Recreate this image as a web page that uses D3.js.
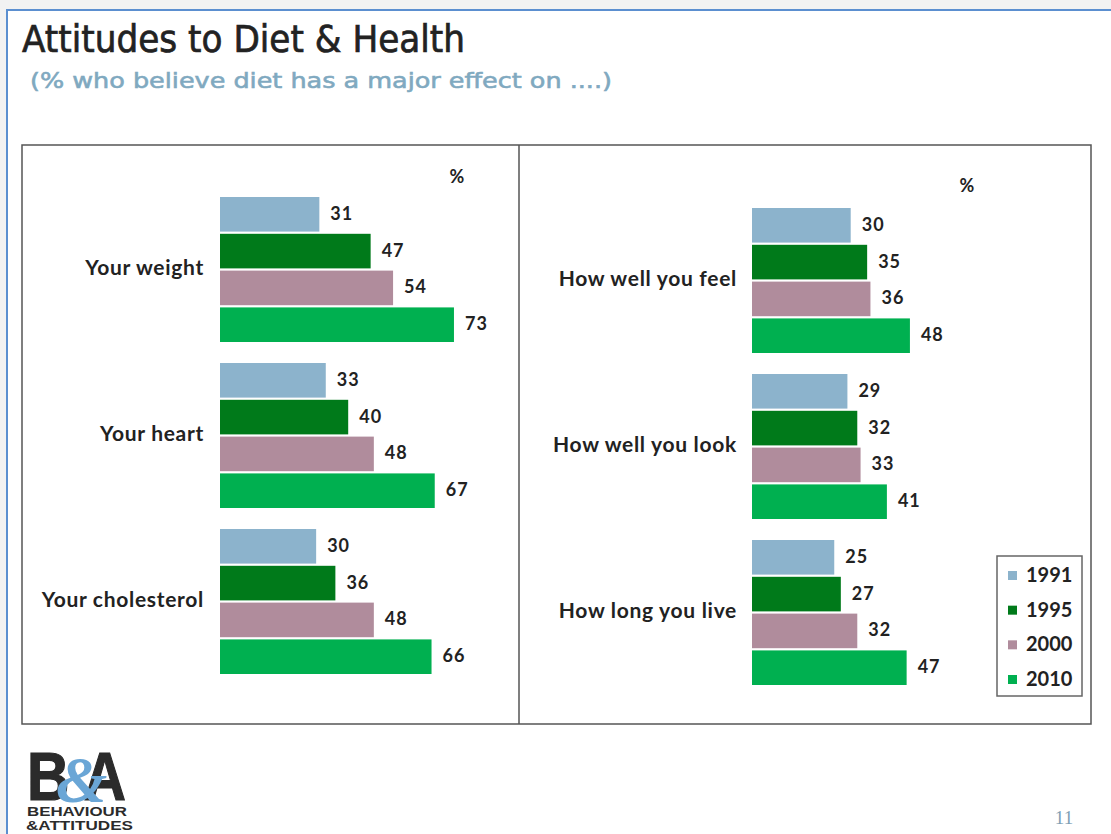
<!DOCTYPE html>
<html>
<head>
<meta charset="utf-8">
<script src="https://cdn.jsdelivr.net/npm/d3@7"></script>
<style>
  html, body { margin: 0; padding: 0; background: #f2f2f2; }
  svg { display: block; }
</style>
</head>
<body>
<svg id="chart" width="1111" height="834"></svg>
<script>
// Survey waves and their colours
const years = ["1991", "1995", "2000", "2010"];
const yearColors = ["#8cb3cc", "#007a1a", "#b08c9c", "#00b050"];

// Left panel: physical effects
const leftCategories = ["Your weight", "Your heart", "Your cholesterol"];
const leftValues = [
  [31, 47, 54, 73],
  [33, 40, 48, 67],
  [30, 36, 48, 66]
];

// Right panel: wellbeing effects
const rightCategories = ["How well you feel", "How well you look", "How long you live"];
const rightValues = [
  [30, 35, 36, 48],
  [29, 32, 33, 41],
  [25, 27, 32, 47]
];

const svg = d3.select("#chart");
const labelFont = "Lato, 'DejaVu Sans', sans-serif";

// Slide page
svg.append("rect").attr("x", 7).attr("y", 10).attr("width", 1104).attr("height", 824).attr("fill", "#ffffff");
svg.append("path").attr("d", "M7,834 V10 H1111")
  .attr("fill", "none").attr("stroke", "#5b8fd0").attr("stroke-width", 2);

// Title and subtitle
svg.append("text")
  .attr("x", 22).attr("y", 52)
  .attr("font-family", "'DejaVu Sans', sans-serif")
  .attr("font-size", 37)
  .attr("fill", "#222222").attr("stroke", "#222222").attr("stroke-width", 0.7)
  .attr("textLength", 443).attr("lengthAdjust", "spacingAndGlyphs")
  .text("Attitudes to Diet & Health");

svg.append("text")
  .attr("x", 30).attr("y", 88)
  .attr("font-family", "'DejaVu Sans', sans-serif")
  .attr("font-size", 22)
  .attr("fill", "#80a9c0").attr("stroke", "#80a9c0").attr("stroke-width", 0.6)
  .attr("textLength", 582).attr("lengthAdjust", "spacingAndGlyphs")
  .text("(% who believe diet has a major effect on ....)");

// Chart frame with divider
svg.append("rect").attr("x", 22).attr("y", 145).attr("width", 1069).attr("height", 579)
  .attr("fill", "#ffffff").attr("stroke", "#555555").attr("stroke-width", 1.5);
svg.append("line").attr("x1", 519).attr("x2", 519).attr("y1", 145).attr("y2", 724)
  .attr("stroke", "#555555").attr("stroke-width", 1.5);

function drawPanel(cfg) {
  const x = d3.scaleLinear().domain([0, 100]).range([cfg.x0, cfg.x0 + cfg.width100]);
  const y = d3.scaleBand().domain(cfg.categories).range([cfg.y0, cfg.y0 + 498])
    .paddingInner(0.1265).paddingOuter(0.1265 / 2);
  const yInner = d3.scaleBand().domain(years).range([0, y.bandwidth()])
    .paddingInner(0.06).paddingOuter(0);
  const color = d3.scaleOrdinal().domain(years).range(yearColors);

  const g = svg.append("g");

  // "%" unit marker
  g.append("text")
    .attr("x", cfg.pctX).attr("y", cfg.pctY)
    .attr("text-anchor", "middle").attr("dominant-baseline", "middle")
    .attr("font-family", labelFont).attr("font-weight", "bold")
    .attr("font-size", 18).attr("fill", "#222")
    .text("%");

  const groups = g.selectAll("g.cat")
    .data(cfg.categories.map((c, i) => ({ cat: c, vals: cfg.values[i] })))
    .join("g").attr("class", "cat")
    .attr("transform", d => `translate(0,${y(d.cat)})`);

  groups.append("text")
    .attr("x", cfg.labelX)
    .attr("y", y.bandwidth() / 2)
    .attr("text-anchor", "end").attr("dominant-baseline", "middle")
    .attr("font-family", labelFont).attr("font-weight", "bold")
    .attr("font-size", 21).attr("letter-spacing", 0.7).attr("fill", "#222")
    .text(d => d.cat);

  const bars = groups.selectAll("g.bar")
    .data(d => d.vals.map((v, j) => ({ year: years[j], value: v })))
    .join("g").attr("class", "bar");

  bars.append("rect")
    .attr("x", x(0))
    .attr("y", d => yInner(d.year))
    .attr("width", d => x(d.value) - x(0))
    .attr("height", yInner.bandwidth())
    .attr("fill", d => color(d.year));

  bars.append("text")
    .attr("x", d => x(d.value) + 11)
    .attr("y", d => yInner(d.year) + yInner.bandwidth() / 2 + 1)
    .attr("dominant-baseline", "middle")
    .attr("font-family", labelFont).attr("font-weight", "bold")
    .attr("font-size", 18).attr("letter-spacing", 1).attr("fill", "#222")
    .text(d => d.value);
}

drawPanel({
  categories: leftCategories, values: leftValues,
  x0: 220, width100: 320.5, y0: 186.5, labelX: 204, pctX: 457, pctY: 178
});
drawPanel({
  categories: rightCategories, values: rightValues,
  x0: 752, width100: 329, y0: 197.5, labelX: 737, pctX: 967, pctY: 187
});

// Legend
const legend = svg.append("g");
legend.append("rect").attr("x", 997).attr("y", 556).attr("width", 85).attr("height", 140)
  .attr("fill", "#ffffff").attr("stroke", "#666666").attr("stroke-width", 1.5);
const legendY = d3.scalePoint().domain(years).range([576, 680]);
const items = legend.selectAll("g.item").data(years).join("g").attr("class", "item")
  .attr("transform", d => `translate(0,${legendY(d)})`);
items.append("rect").attr("x", 1008).attr("y", -5).attr("width", 9).attr("height", 9)
  .attr("fill", (d, i) => yearColors[i]);
items.append("text").attr("x", 1026).attr("y", 1)
  .attr("dominant-baseline", "middle")
  .attr("font-family", labelFont).attr("font-weight", "bold")
  .attr("font-size", 20).attr("fill", "#222")
  .text(d => d);

// Company logo: monogram with a blue ampersand laid over it, then the wordmark
const logo = svg.append("g");
logo.append("text").attr("x", 27).attr("y", 800)
  .attr("font-family", "'Liberation Sans', Arial, sans-serif").attr("font-weight", "bold")
  .attr("font-size", 68).attr("fill", "#2b2b2b")
  .attr("stroke", "#2b2b2b").attr("stroke-width", 1.2)
  .attr("textLength", 99).attr("lengthAdjust", "spacingAndGlyphs")
  .text("B A");
logo.append("text").attr("x", 56).attr("y", 802)
  .attr("font-family", "'Liberation Serif', serif").attr("font-weight", "bold").attr("font-style", "italic")
  .attr("font-size", 66).attr("fill", "#6aa6d6")
  .text("&");
logo.append("text").attr("x", 27).attr("y", 816)
  .attr("font-family", "'Liberation Sans', Arial, sans-serif").attr("font-weight", "bold")
  .attr("font-size", 13.5).attr("fill", "#2b2b2b")
  .attr("textLength", 100).attr("lengthAdjust", "spacingAndGlyphs")
  .text("BEHAVIOUR");
logo.append("text").attr("x", 26).attr("y", 830)
  .attr("font-family", "'Liberation Sans', Arial, sans-serif").attr("font-weight", "bold")
  .attr("font-size", 13.5).attr("fill", "#2b2b2b")
  .attr("textLength", 107).attr("lengthAdjust", "spacingAndGlyphs")
  .text("&ATTITUDES");

// Page number
svg.append("text").attr("x", 1064).attr("y", 824)
  .attr("text-anchor", "middle")
  .attr("font-family", "'Liberation Serif', serif")
  .attr("font-size", 19).attr("fill", "#7f9fb5")
  .text("11");
</script>
</body>
</html>
